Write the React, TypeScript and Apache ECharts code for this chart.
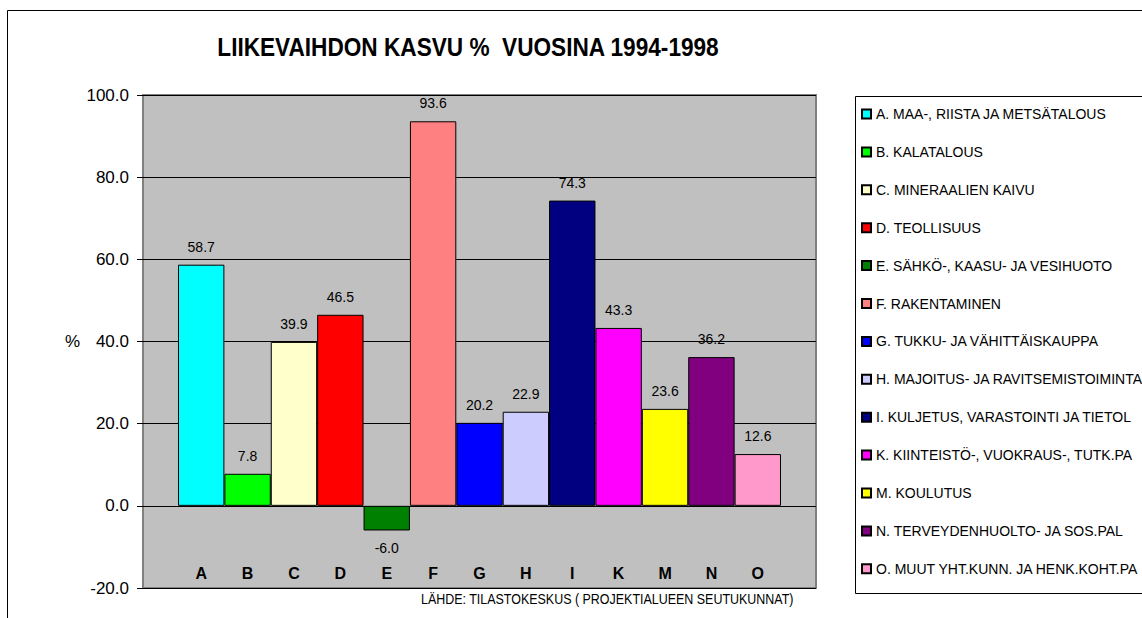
import React, { useEffect, useRef } from "react";
import * as echarts from "echarts";

const categories = ["A", "B", "C", "D", "E", "F", "G", "H", "I", "K", "M", "N", "O"];
const legendNames = [
  "A. MAA-, RIISTA JA METSÄTALOUS",
  "B. KALATALOUS",
  "C. MINERAALIEN KAIVU",
  "D. TEOLLISUUS",
  "E. SÄHKÖ-, KAASU- JA VESIHUOTO",
  "F. RAKENTAMINEN",
  "G. TUKKU- JA VÄHITTÄISKAUPPA",
  "H. MAJOITUS- JA RAVITSEMISTOIMINTA",
  "I. KULJETUS, VARASTOINTI JA TIETOL",
  "K. KIINTEISTÖ-, VUOKRAUS-, TUTK.PA",
  "M. KOULUTUS",
  "N. TERVEYDENHUOLTO- JA SOS.PAL",
  "O. MUUT YHT.KUNN. JA HENK.KOHT.PA",
];
const values = [58.7, 7.8, 39.9, 46.5, -6.0, 93.6, 20.2, 22.9, 74.3, 43.3, 23.6, 36.2, 12.6];
const colors = [
  "#00ffff", "#00ff00", "#ffffcc", "#ff0000", "#008000", "#ff8080", "#0000ff",
  "#ccccff", "#000080", "#ff00ff", "#ffff00", "#800080", "#ff99cc",
];
const yMin = -20;
const yMax = 100;
const yStep = 20;
const titleText = "LIIKEVAIHDON KASVU %  VUOSINA 1994-1998";
const sourceText = "LÄHDE: TILASTOKESKUS ( PROJEKTIALUEEN SEUTUKUNNAT)";

const FONT = "'Liberation Sans', Arial, sans-serif";

export default function App() {
  const ref = useRef<HTMLDivElement>(null);
  useEffect(() => {
    if (!ref.current) return;
    const chart = echarts.init(ref.current, undefined, { renderer: "svg" });
    const series = categories.map((_, i) => ({
      type: "bar",
      name: legendNames[i],
      xAxisIndex: 1,
      yAxisIndex: 1,
      stack: "all",
      barCategoryGap: "0%",
      itemStyle: { color: colors[i], borderColor: "#000", borderWidth: 1 },
      label: {
        show: true,
        fontFamily: FONT,
        fontSize: 14,
        color: "#000",
        distance: 11,
        formatter: (p: any) => Number(p.value).toFixed(1),
      },
      data: categories.map((__, j) =>
        j === i
          ? { value: values[i], label: { position: values[i] < 0 ? "bottom" : "top" } }
          : "-"
      ),
    }));
    chart.setOption({
      animation: false,
      backgroundColor: "#fff",
      textStyle: { fontFamily: FONT },
      grid: [
        {
          left: 143, right: 326, top: 95, bottom: 30,
          show: true, backgroundColor: "#c0c0c0", borderColor: "#808080", borderWidth: 2,
        },
        { left: 178, right: 361, top: 95, bottom: 30 },
      ],
      xAxis: [
        { gridIndex: 0, type: "category", data: [""], show: false },
        {
          gridIndex: 1,
          type: "category",
          data: categories,
          axisLine: { show: false, onZero: false },
          axisTick: { show: false },
          axisLabel: {
            inside: true,
            margin: 7,
            fontFamily: FONT,
            fontSize: 16,
            fontWeight: "bold",
            color: "#000",
          },
          splitLine: { show: false },
        },
      ],
      yAxis: [
        {
          gridIndex: 0,
          type: "value",
          min: yMin,
          max: yMax,
          interval: yStep,
          name: "%",
          nameLocation: "middle",
          nameRotate: 0,
          nameGap: 63,
          nameTextStyle: { fontFamily: FONT, fontSize: 17, color: "#000" },
          axisLine: { show: false },
          axisTick: { show: true, length: 6, lineStyle: { color: "#000" } },
          axisLabel: {
            margin: 14,
            fontFamily: FONT,
            fontSize: 17,
            color: "#000",
            formatter: (v: number) => v.toFixed(1),
          },
          splitLine: { show: true, lineStyle: { color: "#000", width: 1 } },
        },
        { gridIndex: 1, type: "value", min: yMin, max: yMax, interval: yStep, show: false },
      ],
      legend: {
        orient: "vertical",
        left: 861,
        top: 106,
        padding: 0,
        itemWidth: 9,
        itemHeight: 9,
        itemGap: 21.9,
        selectedMode: false,
        icon: "rect",
        textStyle: { fontFamily: FONT, fontSize: 14, lineHeight: 16, color: "#000" },
        data: legendNames,
      },
      graphic: [
        {
          type: "rect",
          shape: { x: 7.5, y: 10.5, width: 1200, height: 700 },
          style: { fill: "none", stroke: "#000", lineWidth: 1 },
          silent: true,
        },
        {
          type: "rect",
          shape: { x: 855.5, y: 96.5, width: 400, height: 497 },
          style: { fill: "none", stroke: "#000", lineWidth: 1 },
          silent: true,
        },
        {
          type: "text",
          x: 468,
          y: 47,
          scaleX: 0.905,
          style: {
            text: titleText,
            fontFamily: FONT,
            fontSize: 25,
            fontWeight: "bold",
            fill: "#000",
            align: "center",
            verticalAlign: "middle",
          },
        },
        {
          type: "text",
          x: 421,
          y: 599,
          scaleX: 0.89,
          style: {
            text: sourceText,
            fontFamily: FONT,
            fontSize: 14,
            fill: "#000",
            align: "left",
            verticalAlign: "middle",
          },
        },
      ],
      series,
    });
    return () => chart.dispose();
  }, []);
  return (
    <div
      ref={ref}
      style={{ position: "absolute", left: 0, top: 0, width: 1142, height: 618 }}
    />
  );
}
